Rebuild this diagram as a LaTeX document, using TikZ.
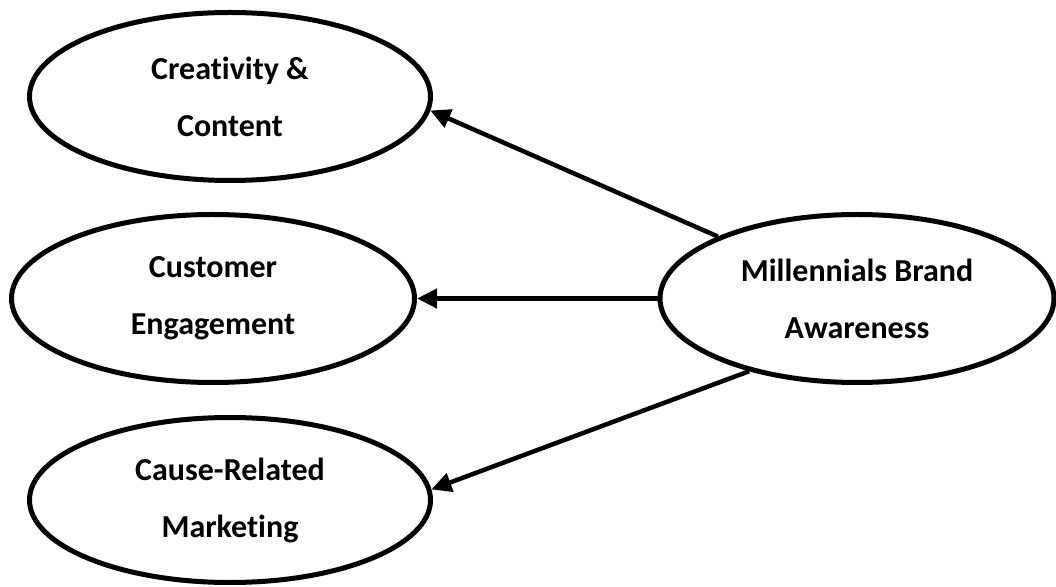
\documentclass[tikz,border=0pt]{standalone}
\usepackage{fontspec}
\setmainfont{Carlito}[RawFeature=-liga]
\usetikzlibrary{shapes.geometric,arrows.meta}
\begin{document}
\begin{tikzpicture}[x=1pt,y=1pt,
  construct/.style={ellipse, draw=black, line width=5pt, inner sep=0pt,
    align=center, font=\bfseries\fontsize{32}{57}\selectfont},
  link/.style={draw=black, line width=4.5pt, -{Triangle[length=20pt,width=19pt]}}]
\useasboundingbox (0,0) rectangle (1056,586);

% outcome constructs
\node[construct, minimum width=401pt, minimum height=168pt] (cc)  at (230,489.5) {Creativity \&\\Content};
\node[construct, minimum width=403pt, minimum height=168pt] (ce)  at (213,287.5) {Customer\\Engagement};
\node[construct, minimum width=401pt, minimum height=165pt] (crm) at (230,86)    {Cause-Related\\Marketing};

% driving construct
\node[construct, minimum width=394pt, minimum height=168pt] (mba) at (857,287.5) {Millennials Brand\\Awareness};

% paths
\draw[link] (mba.156) -- (cc.-4);
\draw[link] (mba.west) -- (ce.east);
\draw[link] (mba.214) -- (crm.3.5);
\end{tikzpicture}
\end{document}
